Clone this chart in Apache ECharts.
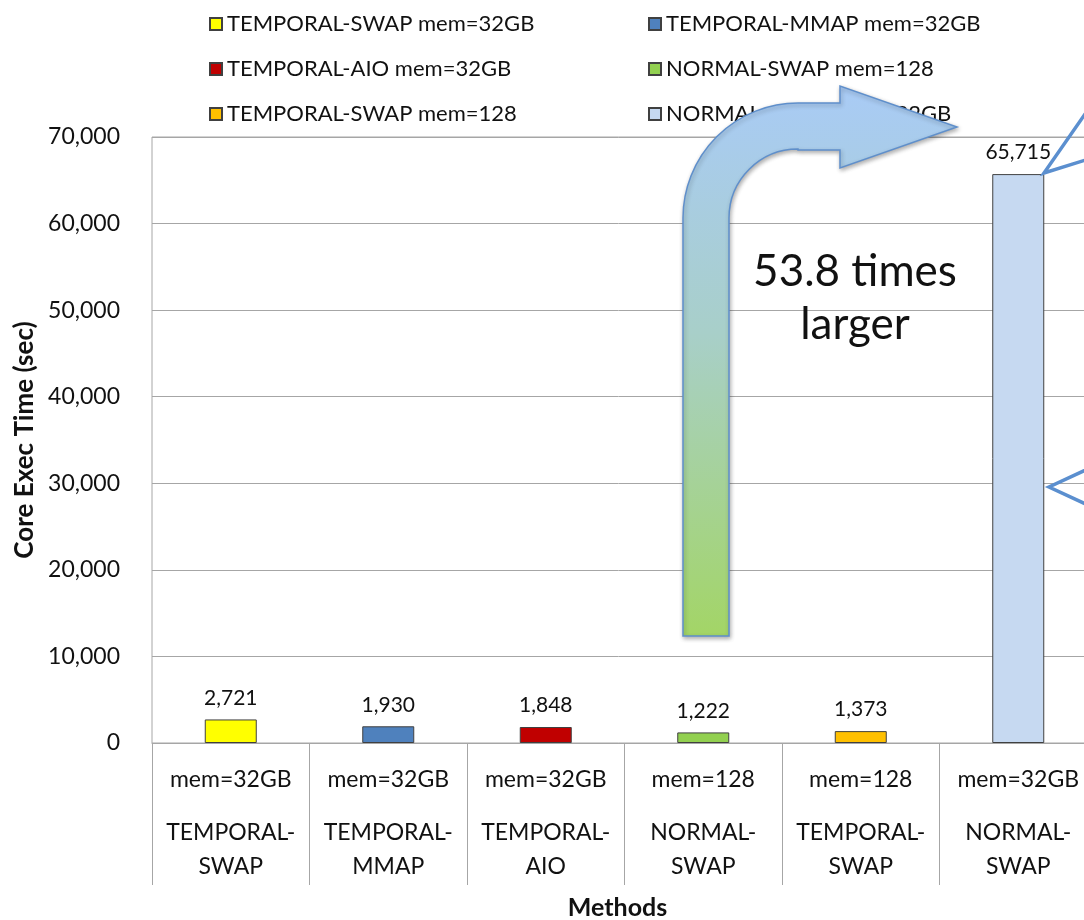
<!DOCTYPE html>
<html>
<head>
<meta charset="utf-8">
<script src="https://cdn.jsdelivr.net/npm/echarts@6/dist/echarts.min.js"></script>
<style>
html,body{margin:0;padding:0;background:#fff;}
#chart{width:1084px;height:920px;}
</style>
</head>
<body>
<div id="chart"></div>
<script>
// ---- data ----
const seriesNames = [
  'TEMPORAL-SWAP mem=32GB',
  'TEMPORAL-MMAP mem=32GB',
  'TEMPORAL-AIO mem=32GB',
  'NORMAL-SWAP mem=128',
  'TEMPORAL-SWAP mem=128',
  'NORMAL-SWAP mem=32GB'
];
const execTimes = [2721, 1930, 1848, 1222, 1373, 65715];
const barColors = ['#FFFF00', '#4F81BD', '#C00000', '#92D050', '#FFC000', '#C6D9F1'];
const yTicks = [0, 10000, 20000, 30000, 40000, 50000, 60000, 70000];
const yAxisTitle = 'Core Exec Time (sec)';
const xAxisTitle = 'Methods';
const annotationLines = ['53.8 times', 'larger'];

const FONT = 'Lato';

// bent arrow annotation shape
const BentArrow = echarts.graphic.extendShape({
  shape: { x0: 683, x1: 729, yBottom: 636, yTopOuter: 103, yTopInner: 150, rOuter: 115, headX: 840, headTop: 86, headBottom: 168, tipX: 957 },
  buildPath: function (ctx, s) {
    const cx = s.x0 + s.rOuter;
    const cy = s.yTopOuter + s.rOuter;
    const rInner = s.rOuter - (s.x1 - s.x0);
    ctx.moveTo(s.x0, s.yBottom);
    ctx.lineTo(s.x0, cy);
    ctx.arc(cx, cy, s.rOuter, Math.PI, Math.PI * 1.5, false);
    ctx.lineTo(s.headX, s.yTopOuter);
    ctx.lineTo(s.headX, s.headTop);
    ctx.lineTo(s.tipX, (s.headTop + s.headBottom) / 2);
    ctx.lineTo(s.headX, s.headBottom);
    ctx.lineTo(s.headX, s.yTopInner);
    ctx.lineTo(cx, s.yTopInner);
    ctx.arc(cx, cy, rInner, Math.PI * 1.5, Math.PI, true);
    ctx.lineTo(s.x1, s.yBottom);
    ctx.closePath();
  }
});
echarts.graphic.registerShape('bentArrow', BentArrow);

const chart = echarts.init(document.getElementById('chart'));

const series = seriesNames.map((name, i) => ({
  name: name,
  type: 'bar',
  barWidth: 52,
  barGap: '-100%',
  data: seriesNames.map((c, j) => j === i ? execTimes[i] : '-'),
  itemStyle: { color: barColors[i], borderColor: '#404040', borderWidth: 1 },
  label: {
    show: true,
    position: 'top',
    distance: 11,
    color: '#111',
    fontFamily: FONT,
    fontSize: 21,
    formatter: p => Number(p.value).toLocaleString('en-US')
  }
}));

const legendCommon = {
  orient: 'vertical',
  top: 7,
  itemWidth: 12,
  itemHeight: 12,
  itemGap: 21,
  icon: 'rect',
  selectedMode: false,
  textStyle: { fontFamily: FONT, fontSize: 22, color: '#111', lineHeight: 24 }
};

const option = {
  animation: false,
  backgroundColor: '#fff',
  textStyle: { fontFamily: FONT },
  legend: [
    Object.assign({}, legendCommon, { left: 204, data: [seriesNames[0], seriesNames[2], seriesNames[4]] }),
    Object.assign({}, legendCommon, { left: 643, data: [seriesNames[1], seriesNames[3], seriesNames[5]] })
  ],
  grid: {
    left: 152, top: 137, right: -13, bottom: 177,
    show: true, borderColor: '#A6A6A6', borderWidth: 1,
    outerBoundsMode: 'none', containLabel: false
  },
  xAxis: {
    type: 'category',
    data: seriesNames,
    name: xAxisTitle,
    nameLocation: 'middle',
    nameGap: 152,
    nameTextStyle: { fontFamily: FONT, fontSize: 25, fontWeight: 'bold', color: '#111', padding: [0, 14, 0, 0] },
    axisLine: { show: true, lineStyle: { color: '#A6A6A6', width: 1 } },
    axisTick: { show: true, length: 142, interval: 0, lineStyle: { color: '#A6A6A6', width: 1 } },
    axisLabel: {
      interval: 0,
      margin: 1,
      color: '#111',
      fontFamily: FONT,
      formatter: v => {
        const parts = v.split(' ');
        const m = parts[0].split('-');
        return '{a|' + parts[1] + '}\n{b|' + m[0] + '-}\n{b|' + m[1] + '}';
      },
      rich: {
        a: { fontFamily: FONT, fontSize: 23, lineHeight: 72, color: '#111' },
        b: { fontFamily: FONT, fontSize: 23, lineHeight: 34, color: '#111' }
      }
    }
  },
  yAxis: {
    type: 'value',
    min: yTicks[0],
    max: yTicks[yTicks.length - 1],
    interval: yTicks[1] - yTicks[0],
    name: yAxisTitle,
    nameLocation: 'middle',
    nameGap: 107,
    nameTextStyle: { fontFamily: FONT, fontSize: 26, fontWeight: 'bold', color: '#111' },
    axisLine: { show: false },
    axisTick: { show: false },
    axisLabel: {
      margin: 32,
      color: '#111',
      fontFamily: FONT,
      fontSize: 23,
      formatter: v => Number(v).toLocaleString('en-US')
    },
    splitLine: { show: true, lineStyle: { color: '#A6A6A6', width: 1 } }
  },
  graphic: [
    {
      type: 'bentArrow',
      z: 100,
      style: {
        fill: new echarts.graphic.LinearGradient(0, 0, 0, 1, [
          { offset: 0, color: '#A9CBF6' },
          { offset: 0.45, color: '#A8CFC9' },
          { offset: 1, color: '#A3D566' }
        ]),
        stroke: '#5F8FCB',
        lineWidth: 1.5,
        shadowBlur: 4,
        shadowOffsetX: 1,
        shadowOffsetY: 2,
        shadowColor: 'rgba(0,0,0,0.3)'
      }
    },
    {
      type: 'text',
      z: 101,
      x: 855,
      y: 272,
      style: {
        text: annotationLines[0],
        fill: '#111',
        font: '44px ' + FONT,
        textAlign: 'center',
        textVerticalAlign: 'middle'
      }
    },
    {
      type: 'text',
      z: 101,
      x: 855,
      y: 325,
      style: {
        text: annotationLines[1],
        fill: '#111',
        font: '44px ' + FONT,
        textAlign: 'center',
        textVerticalAlign: 'middle'
      }
    },
    {
      type: 'polyline',
      z: 100,
      shape: { points: [[1092, 104], [1044, 173], [1092, 158]] },
      style: { stroke: '#5B8FCF', lineWidth: 3.5, fill: null }
    },
    {
      type: 'polyline',
      z: 100,
      shape: { points: [[1092, 467], [1049, 487], [1092, 507]] },
      style: { stroke: '#5B8FCF', lineWidth: 3.5, fill: null }
    }
  ],
  series: series
};
chart.setOption(option);
</script>
</body>
</html>
